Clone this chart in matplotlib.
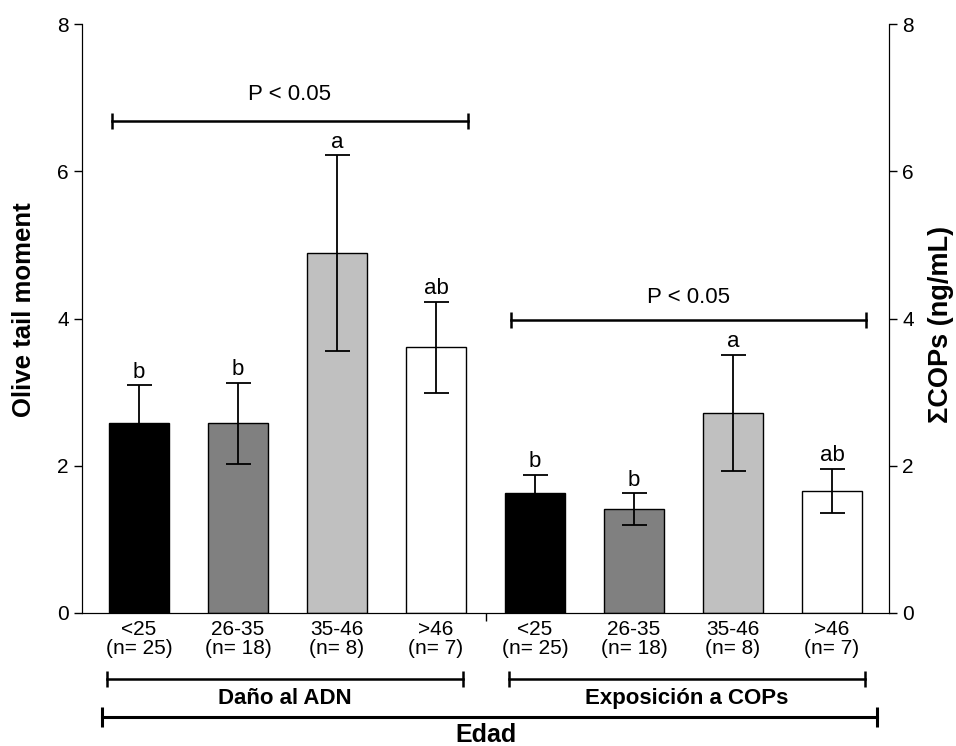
import matplotlib.pyplot as plt

plt.rcParams['font.family'] = ['Liberation Sans', 'DejaVu Sans']

# Data
groups = ["<25\n(n= 25)", "26-35\n(n= 18)", "35-46\n(n= 8)", ">46\n(n= 7)"]
dna_mean = [2.58, 2.58, 4.89, 3.61]
dna_err = [0.52, 0.55, 1.33, 0.62]
cop_mean = [1.63, 1.41, 2.72, 1.66]
cop_err = [0.25, 0.22, 0.79, 0.30]
dna_letters = ["b", "b", "a", "ab"]
cop_letters = ["b", "b", "a", "ab"]
colors = ["#000000", "#808080", "#c0c0c0", "#ffffff"]

fig = plt.figure(figsize=(9.56, 7.46), dpi=100)
ax = fig.add_axes([0.0858, 0.1783, 0.8442, 0.7895])

x = list(range(8))
means = dna_mean + cop_mean
errs = dna_err + cop_err
letters = dna_letters + cop_letters
ax.bar(x, means, width=0.606, color=colors * 2, edgecolor="black", linewidth=1.0, zorder=2)
ax.errorbar(x, means, yerr=errs, fmt="none", ecolor="black", elinewidth=1.3,
            capsize=9, capthick=1.3, zorder=3)
for xi, m, e, lab in zip(x, means, errs, letters):
    ax.text(xi, m + e + 0.03, lab, ha="center", va="bottom", fontsize=16)

# significance brackets
ax.plot([-0.27, 3.32], [6.68, 6.68], color="black", lw=1.8, marker="|", ms=12, mew=1.8)
ax.text(1.52, 7.04, "P < 0.05", ha="center", va="center", fontsize=16)
ax.plot([3.76, 7.34], [3.98, 3.98], color="black", lw=1.8, marker="|", ms=12, mew=1.8)
ax.text(5.55, 4.29, "P < 0.05", ha="center", va="center", fontsize=16)

ax.set_xlim(-0.576, 7.576)
ax.set_ylim(0, 8)
ax.set_yticks([0, 2, 4, 6, 8])
ax.set_xticks(x)
ax.set_xticklabels(groups * 2, fontsize=15, linespacing=1.0)
ax.tick_params(axis="x", length=0, pad=5)
ax.set_xticks([3.5], minor=True)
ax.tick_params(axis="x", which="minor", length=6, width=1, direction="out")
ax.tick_params(axis="y", labelsize=15, length=6, width=1, direction="out")
ax.spines["top"].set_visible(False)
ax.set_ylabel("Olive tail moment", fontsize=18.5, fontweight="bold", labelpad=15)
ax.yaxis.label.set_y(0.515)

ax2 = ax.twinx()
ax2.set_ylim(0, 8)
ax2.set_yticks([0, 2, 4, 6, 8])
ax2.tick_params(axis="y", labelsize=15, length=6, width=1, direction="out")
ax2.spines["top"].set_visible(False)
ax2.set_ylabel("\u03a3COPs (ng/mL)", fontsize=19.5, fontweight="bold", labelpad=10)
ax2.yaxis.label.set_y(0.49)

# group brackets below the axis
tr = ax.get_xaxis_transform()
ax.plot([-0.32, 3.27], [-0.112, -0.112], transform=tr, clip_on=False, color="black",
        lw=1.8, marker="|", ms=12, mew=1.8)
ax.text(1.475, -0.146, "Daño al ADN", transform=tr, ha="center", va="center",
        fontsize=16, fontweight="bold")
ax.plot([3.74, 7.33], [-0.112, -0.112], transform=tr, clip_on=False, color="black",
        lw=1.8, marker="|", ms=12, mew=1.8)
ax.text(5.535, -0.146, "Exposición a COPs", transform=tr, ha="center", va="center",
        fontsize=16, fontweight="bold")
ax.plot([-0.37, 7.45], [-0.177, -0.177], transform=tr, clip_on=False, color="black",
        lw=2.2, marker="|", ms=14, mew=2.2)
ax.text(3.5, -0.207, "Edad", transform=tr, ha="center", va="center",
        fontsize=18, fontweight="bold")

fig.savefig("out.png", dpi=100)
